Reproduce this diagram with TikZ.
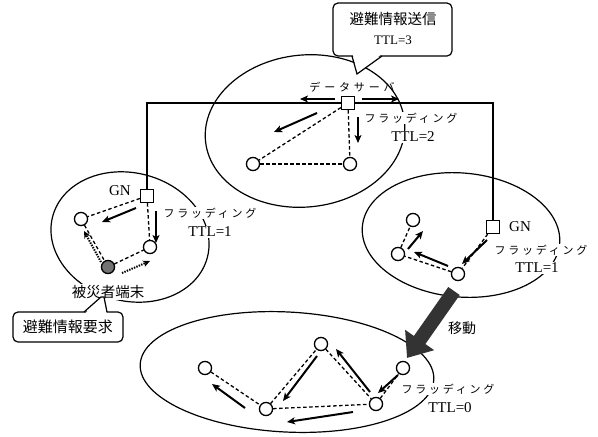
\documentclass[tikz,border=0pt]{standalone}
\usepackage{fontspec}
\setmainfont{Liberation Serif}
\newfontfamily\jp{Noto Sans CJK JP}
\newfontfamily\jpw{Noto Sans CJK JP}[LetterSpace=25]
\newfontfamily\jpww{Noto Sans CJK JP}[LetterSpace=35]
\usetikzlibrary{arrows.meta}
\begin{document}
\begin{tikzpicture}[x=1pt,y=-1pt,
  ell/.style={line width=1.2pt},
  link/.style={line width=1.3pt, dash pattern=on 3.5pt off 2.5pt},
  flow/.style={line width=2pt, -{Stealth[length=8pt,width=7pt,inset=2pt]}},
  dotflow/.style={line width=2pt, dash pattern=on 1.4pt off 1.2pt, -{Stealth[length=7pt,width=6.5pt,inset=2pt]}},
  host/.style={circle, draw, line width=1.2pt, minimum size=13pt, inner sep=0pt, fill=white},
  gw/.style={rectangle, draw, line width=1.2pt, minimum size=13pt, inner sep=0pt, fill=white},
  victim/.style={host, fill=black!55},
  flood/.style={font=\jpw\fontsize{11}{12}\selectfont, inner sep=1pt, fill=white},
  ttl/.style={font=\fontsize{15}{16}\selectfont, inner sep=1pt, fill=white},
  jplbl/.style={font=\jp\fontsize{14.5}{16}\selectfont, inner sep=1pt, fill=white},
  gnlbl/.style={font=\fontsize{15}{16}\selectfont, inner sep=0pt},
  callbox/.style={draw, line width=1.2pt, rounded corners=5pt, fill=white, inner sep=0pt}
]
\useasboundingbox (0,0) rectangle (598,437);

% ellipses
\draw[ell, rotate around={6:(305,131)}] (305,131) ellipse [x radius=100, y radius=76];
\draw[ell, rotate around={-15:(130,237)}] (130,237) ellipse [x radius=80, y radius=64];
\draw[ell, rotate around={-5:(461,235)}] (461,235) ellipse [x radius=99, y radius=62];
\draw[ell, rotate around={-3:(287,372)}] (287,372) ellipse [x radius=147, y radius=60];

% nodes: top
\node[gw] (srv) at (348,103) {};
\node[host] (t1) at (253,164) {};
\node[host] (t2) at (350,164) {};
% left
\node[gw] (gnL) at (147,196) {};
\node[host] (l1) at (81,219) {};
\node[host] (l2) at (150,247) {};
\node[victim] (vt) at (108,267) {};
% right
\node[gw] (gnR) at (493,227) {};
\node[host] (r1) at (413,220) {};
\node[host] (r2) at (398,254) {};
\node[host] (r3) at (458,274) {};
% bottom
\node[host] (b1) at (205,368) {};
\node[host] (b2) at (266,409) {};
\node[host] (b3) at (321,344) {};
\node[host] (b4) at (376,404) {};
\node[host] (b5) at (403,368) {};

% backbone
\draw[line width=1.1pt] (gnL) |- (srv);
\draw[line width=1.1pt] (srv) -| (gnR);

% dashed links
\draw[link] (srv) -- (t1);
\draw[link] (srv) -- (t2);
\draw[link] (t1) -- (t2);
\draw[link] (gnL) -- (l1);
\draw[link] (gnL) -- (l2);
\draw[link] (l1) -- (vt);
\draw[link] (vt) -- (l2);
\draw[link] (gnR) -- (r3);
\draw[link] (r3) -- (r2);
\draw[link] (r2) -- (r1);
\draw[link] (b1) -- (b2);
\draw[link] (b2) -- (b3);
\draw[link] (b3) -- (b4);
\draw[link] (b2) -- (b4);
\draw[link] (b4) -- (b5);
% redraw nodes on top of links
\foreach \n in {t1,t2,l1,l2,r1,r2,r3,b1,b2,b3,b4,b5}{\node[host] at (\n) {};}
\node[victim] at (vt) {};
\node[gw] at (srv) {};
\node[gw] at (gnL) {};
\node[gw] at (gnR) {};

% flow arrows
\coordinate (s1a) at (335,99);  \coordinate (s1b) at (300,99);
\coordinate (s2a) at (362,99);  \coordinate (s2b) at (399,99);
\coordinate (s3a) at (317,113); \coordinate (s3b) at (274,132);
\coordinate (s4a) at (358,117); \coordinate (s4b) at (358,143);
\draw[flow] (s1a) -- (s1b);
\draw[flow] (s2a) -- (s2b);
\draw[flow] (s3a) -- (s3b);
\draw[flow] (s4a) -- (s4b);

\coordinate (l3a) at (136,208); \coordinate (l3b) at (102,222);
\coordinate (l4a) at (156,211); \coordinate (l4b) at (156,243);
\draw[flow] (l3a) -- (l3b);
\draw[flow] (l4a) -- (l4b);
\coordinate (v1a) at (101,262); \coordinate (v1b) at (84,231);
\coordinate (v2a) at (122,273); \coordinate (v2b) at (150,261);
\draw[dotflow] (v1a) -- (v1b);
\draw[dotflow] (v2a) -- (v2b);

\coordinate (r4a) at (487,240); \coordinate (r4b) at (462,264);
\coordinate (r5a) at (448,266); \coordinate (r5b) at (414,252);
\coordinate (r6a) at (408,249); \coordinate (r6b) at (423,231);
\draw[flow] (r4a) -- (r4b);
\draw[flow] (r5a) -- (r5b);
\draw[flow] (r6a) -- (r6b);

\coordinate (b6a) at (245,408); \coordinate (b6b) at (212,384);
\coordinate (b7a) at (317,356); \coordinate (b7b) at (283,401);
\coordinate (b8a) at (370,392); \coordinate (b8b) at (336,349);
\coordinate (b9a) at (353,412); \coordinate (b9b) at (287,422);
\coordinate (b0a) at (398,375); \coordinate (b0b) at (378,393);
\draw[flow] (b6a) -- (b6b);
\draw[flow] (b7a) -- (b7b);
\draw[flow] (b8a) -- (b8b);
\draw[flow] (b9a) -- (b9b);
\draw[flow] (b0a) -- (b0b);

% move arrow
\coordinate (mvA) at (454,291);
\coordinate (mvB) at (407,358);
\draw[line width=14pt, draw=black!80, -{Triangle[length=22pt,width=34pt]}] (mvA) -- (mvB);
\node[font=\jp\fontsize{14}{15}\selectfont, inner sep=0pt] (mvL) at (462,328) {移動};

% labels
\node[font=\jpww\fontsize{11}{12}\selectfont, inner sep=1pt] (srvL) at (352,87) {データサーバ};
\node[flood] (f2) at (411,118) {フラッディング};
\node[ttl] (ttl2) at (413,137) {TTL=2};
\node[flood] (f1L) at (210,213) {フラッディング};
\node[ttl] (ttl1L) at (210,232) {TTL=1};
\node[flood] (f1R) at (541,250) {フラッディング};
\node[ttl] (ttl1R) at (537,268) {TTL=1};
\node[flood] (f0) at (448,389) {フラッディング};
\node[ttl] (ttl0) at (450,408) {TTL=0};
\node[gnlbl] (gnLl) at (120,191) {GN};
\node[gnlbl] (gnRl) at (520,227) {GN};
\node[jplbl] (vtL) at (108,292) {被災者端末};

% callout top
\node[callbox, minimum width=119pt, minimum height=53pt] (cb1) at (392.5,29.5) {};
\fill[white] (352.8,54.4) -- (357,74) -- (381.2,54.4) -- cycle;
\coordinate (c1a) at (352,56); \coordinate (c1p) at (357,74); \coordinate (c1b) at (382,56);
\draw[line width=1.2pt] (c1a) -- (c1p) -- (c1b);
\node[font=\jp\fontsize{14.5}{16}\selectfont, inner sep=0pt] (cb1t) at (393,19) {避難情報送信};
\node[font=\fontsize{13}{14}\selectfont, inner sep=0pt] (cb1u) at (393,40) {TTL=3};

% callout bottom-left
\node[callbox, minimum width=110pt, minimum height=30pt] (cb2) at (68,327) {};
\fill[white] (85,313.6) -- (101,297) -- (104,297) -- (106.8,313.6) -- cycle;
\coordinate (c2a) at (84,312); \coordinate (c2p) at (101,297); \coordinate (c2q) at (104,297); \coordinate (c2b) at (107,312);
\draw[line width=1.2pt] (c2a) -- (c2p) -- (c2q) -- (c2b);
\node[font=\jp\fontsize{15}{16}\selectfont, inner sep=0pt] (cb2t) at (68,327) {避難情報要求};
\end{tikzpicture}
\end{document}
